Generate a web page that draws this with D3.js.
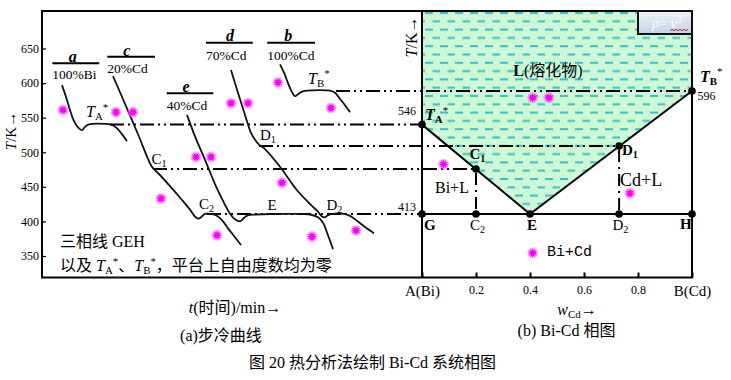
<!DOCTYPE html>
<html>
<head>
<meta charset="utf-8">
<script src="https://cdn.jsdelivr.net/npm/d3@7"></script>
<style>
  body { margin: 0; background: #fff; }
  text { font-family: "Liberation Serif", "Noto Sans CJK SC", serif; fill: #000; }
</style>
</head>
<body>
<div id="chart"></div>
<script>
// ---- values ----
const tempTicks = [350, 400, 450, 500, 550, 600, 650];
const compTicks = [0, 0.2, 0.4, 0.6, 0.8, 1];
const compTickLabels = ["A(Bi)", "0.2", "0.4", "0.6", "0.8", "B(Cd)"];

// cooling curves, [t (min), T (K)]
const curveA = [[2.0,597],[2.4,580],[2.8,561],[3.2,545],[3.6,536],[4.0,532],[4.2,535],[4.5,539],[5.0,541],
  [6.3,541],[6.9,540],[7.4,536],[7.9,528],[8.5,516]];
const curveC = [[7.1,610],[8.3,570],[9.6,526],[10.8,484],[11.1,477],[11.6,470],[12.8,451],[14.0,431],[14.8,417],
  [15.3,407],[15.65,404],[15.9,406],[16.3,411],[16.8,411],[17.4,409],[18.0,402],[18.6,390],[19.2,379],[19.9,366]];
const curveE = [[14.5,554],[15.3,523],[16.3,489],[17.3,454],[18.3,424],[18.8,411],[19.3,403],[19.8,400],[20.2,405],
  [20.6,409],[21.4,410],[24.8,411],[26.8,410],[27.6,406],[28.1,398],[28.6,380],[29.1,360]];
const curveD = [[18.9,619],[19.6,586],[20.3,554],[20.9,528],[21.3,518],[21.7,511],[22.2,506],[23.8,479],[25.5,445],
  [26.9,424],[27.6,414],[28.0,407],[28.3,406],[28.6,409],[29.0,411],[30.2,411],[30.8,408],[31.5,401],[32.3,392],[33.2,383]];
const curveB = [[23.8,627],[24.2,615],[24.6,600],[25.0,587],[25.3,581],[25.6,584],[25.9,587],[26.5,589],[28.8,589],
  [29.3,586],[29.8,577],[30.3,568],[30.8,558]];
const curveNames = ["a", "c", "e", "d", "b"];
const curveComps = ["100%Bi", "20%Cd", "40%Cd", "70%Cd", "100%Cd"];

// phase diagram points, w(Cd) and T (K)
const pointNames = ["TA", "TB", "C1", "D1", "G", "C2", "E", "D2", "H"];
const pointW = [0, 1, 0.2, 0.73, 0, 0.2, 0.4, 0.73, 1];
const pointT = [546, 596, 480, 514, 413, 413, 413, 413, 413];

// dash-dot lines: from t on the curves to w in the phase diagram
const tieT = [596, 546, 514, 480, 413];
const tieFromT = [29.4, 6.8, 21.7, 11.1, 16.5];
const tieToW = [1, 0, 0.73, 0.2, 0];

// star markers
const starsA = [[2.1,561],[7.4,558],[9.1,558],[23.6,601],[18.9,571],[20.6,571],[28.9,564],[15.4,493],[16.9,493],
  [24.0,456],[11.9,433],[17.5,380],[27.0,378],[31.4,387]];
const starsB = [[0.41,586],[0.47,586],[0.08,487],[0.77,444],[0.41,355]];

// ---- layout ----
const W = 731, H = 380;
const frame = { left: 42, top: 11, mid: 422, right: 692, bottom: 277.5 };

const svg = d3.select("#chart").append("svg").attr("width", W).attr("height", H);

const xA = d3.scaleLinear().domain([0, 38]).range([frame.left, frame.mid]);
const yA = d3.scaleLinear().domain([350, 650]).range([256, 48.5]);
const xB = d3.scaleLinear().domain([0, 1]).range([frame.mid, frame.right]);
const yB = d3.scaleLinear().domain([413, 596]).range([214, 91]);

// rich text helper (italic / bold / sub / sup parts)
function richText(sel, x, y, parts, size, anchor) {
  const t = sel.append("text").attr("x", x).attr("y", y)
    .attr("font-size", size).attr("text-anchor", anchor || "start");
  let shift = 0;
  parts.forEach(p => {
    const target = p.sub ? size * 0.2 : p.sup ? -size * 0.38 : 0;
    const s = t.append("tspan").text(p.t).attr("dy", target - shift);
    shift = target;
    if (p.sub || p.sup) s.attr("font-size", size * 0.68);
    if (p.i) s.attr("font-style", "italic");
    if (p.b) s.attr("font-weight", "bold");
    if (p.f) s.style("font-family", p.f);
  });
  return t;
}

// ---- liquid region with dashed fill ----
const defs = svg.append("defs");
const pat = defs.append("pattern").attr("id", "liq").attr("patternUnits", "userSpaceOnUse")
  .attr("width", 15).attr("height", 16.6).attr("x", frame.mid + 3).attr("y", 12);
pat.append("rect").attr("width", 15).attr("height", 16.6).attr("fill", "#cef7d4");
pat.append("rect").attr("x", 0).attr("y", 0).attr("width", 8).attr("height", 2).attr("fill", "#33c3c8");
pat.append("rect").attr("x", 7.5).attr("y", 8.3).attr("width", 8).attr("height", 2).attr("fill", "#33c3c8");

const grad = defs.append("linearGradient").attr("id", "boxg").attr("x1", 0).attr("y1", 0).attr("x2", 0).attr("y2", 1);
grad.append("stop").attr("offset", 0).attr("stop-color", "#eef2f8");
grad.append("stop").attr("offset", 1).attr("stop-color", "#c4d3e6");

const tTop = yB.invert(frame.top);
const liquid = [[0, 546], [0, tTop], [1, tTop], [1, 596], [0.4, 413]];
svg.append("path")
  .attr("d", d3.line().x(d => xB(d[0])).y(d => yB(d[1]))(liquid) + "Z")
  .attr("fill", "url(#liq)");

// ---- dash-dot tie lines ----
svg.append("g").selectAll("line").data(tieT).join("line")
  .attr("x1", (d, i) => xA(tieFromT[i]))
  .attr("x2", (d, i) => xB(tieToW[i]))
  .attr("y1", d => yB(d)).attr("y2", d => yB(d))
  .attr("stroke", "#000").attr("stroke-width", 2)
  .attr("stroke-dasharray", "14,4,2,4,2,4");

// ---- phase diagram lines ----
const idx = n => pointNames.indexOf(n);
const pt = n => [xB(pointW[idx(n)]), yB(pointT[idx(n)])];
const pdg = svg.append("g");
pdg.append("path")
  .attr("d", d3.line()([pt("TA"), pt("E"), pt("TB")]))
  .attr("fill", "none").attr("stroke", "#000").attr("stroke-width", 2);
pdg.append("line").attr("x1", pt("G")[0]).attr("x2", pt("H")[0])
  .attr("y1", pt("G")[1]).attr("y2", pt("H")[1]).attr("stroke", "#000").attr("stroke-width", 2);
[["C1", "C2"], ["D1", "D2"]].forEach(([a, b]) => {
  pdg.append("line").attr("x1", pt(a)[0]).attr("x2", pt(b)[0]).attr("y1", pt(a)[1] + 4).attr("y2", pt(b)[1])
    .attr("stroke", "#000").attr("stroke-width", 2).attr("stroke-dasharray", "12,5,2,5");
});
pdg.selectAll("circle").data(pointNames).join("circle")
  .attr("cx", (d, i) => xB(pointW[i])).attr("cy", (d, i) => yB(pointT[i]))
  .attr("r", 3.8).attr("fill", "#000");

// ---- cooling curves ----
const lineA = d3.line().x(d => xA(d[0])).y(d => yA(d[1])).curve(d3.curveCatmullRom.alpha(0.5));
const curves = [curveA, curveC, curveE, curveD, curveB];
svg.append("g").selectAll("path").data(curves).join("path")
  .attr("d", lineA).attr("fill", "none").attr("stroke", "#111").attr("stroke-width", 1.8);

// curve name labels: letter, bar, composition
const labelPos = [
  { cx: 72.7, ly: 61.5, x1: 52.3, x2: 99.3, by: 63.3, ty: 79 },
  { cx: 126.7, ly: 55.5, x1: 107.3, x2: 155, by: 56.7, ty: 72.7 },
  { cx: 186, ly: 91.5, x1: 166.7, x2: 213.3, by: 93.3, ty: 110 },
  { cx: 230, ly: 40.5, x1: 206, x2: 252.7, by: 42.7, ty: 60 },
  { cx: 288.3, ly: 40.5, x1: 267.3, x2: 315, by: 42.7, ty: 60 }
];
const lg = svg.append("g");
curveNames.forEach((n, i) => {
  const p = labelPos[i];
  lg.append("text").attr("x", p.cx).attr("y", p.ly).attr("text-anchor", "middle")
    .attr("font-size", 16).attr("font-weight", "bold").attr("font-style", "italic").text(n);
  lg.append("line").attr("x1", p.x1).attr("x2", p.x2).attr("y1", p.by).attr("y2", p.by)
    .attr("stroke", "#000").attr("stroke-width", 2);
  lg.append("text").attr("x", p.x1).attr("y", p.ty).attr("font-size", 13.5).text(curveComps[i]);
});

// ---- stars ----
function starPath(n, r1, r2) {
  const p = [];
  for (let i = 0; i < 2 * n; i++) {
    const a = i * Math.PI / n, r = i % 2 ? r2 : r1;
    p.push([r * Math.sin(a), -r * Math.cos(a)]);
  }
  return "M" + p.join("L") + "Z";
}
const starPts = starsA.map(d => [xA(d[0]), yA(d[1])]).concat(starsB.map(d => [xB(d[0]), yB(d[1])]));
const sg = svg.append("g").selectAll("g").data(starPts).join("g")
  .attr("transform", d => `translate(${d[0]},${d[1]})`);
sg.append("circle").attr("r", 5.5).attr("fill", "#ff7cff").attr("opacity", 0.45);
sg.append("path").attr("d", starPath(12, 5.5, 2.6)).attr("fill", "#ff00ff");

// ---- frame ----
const fg = svg.append("g").attr("fill", "none").attr("stroke", "#000").attr("stroke-width", 2);
fg.append("rect").attr("x", frame.left).attr("y", frame.top)
  .attr("width", frame.right - frame.left).attr("height", frame.bottom - frame.top);
fg.append("line").attr("x1", frame.mid).attr("x2", frame.mid).attr("y1", frame.top).attr("y2", frame.bottom);

// small box in the corner
svg.append("rect").attr("x", 638).attr("y", frame.top).attr("width", frame.right - 638).attr("height", 23)
  .attr("fill", "url(#boxg)").attr("stroke", "#111").attr("stroke-width", 2);
richText(svg, 652, 28, [{ t: "p", i: true }, { t: "= " }, { t: "v", i: true }, { t: "3", sup: true }], 14)
  .style("fill", "#fff").style("opacity", 0.9);
svg.append("path").attr("d", d3.range(0, 10).map(i => `${i ? "L" : "M"}${670 + i * 2},${i % 2 ? 29 : 31}`).join(""))
  .attr("fill", "none").attr("stroke", "#e02020").attr("stroke-width", 1);

// ---- axes ----
const yAxis = svg.append("g").attr("transform", `translate(${frame.left},0)`)
  .call(d3.axisLeft(yA).tickValues(tempTicks).tickSize(-4).tickPadding(3));
yAxis.select(".domain").remove();
yAxis.selectAll("text").attr("font-size", 12).style("font-family", "Liberation Serif");
yAxis.selectAll("line").attr("stroke-width", 1.2);

const xAxis = svg.append("g").attr("transform", `translate(0,${frame.bottom})`)
  .call(d3.axisBottom(xB).tickValues(compTicks).tickFormat((d, i) => compTickLabels[i]).tickSize(-5).tickPadding(7.5));
xAxis.select(".domain").remove();
xAxis.selectAll("line").attr("stroke-width", 2);
xAxis.selectAll("text").style("font-family", "Liberation Serif")
  .attr("font-size", (d, i) => (i === 0 || i === compTicks.length - 1) ? 15 : 12);

// axis titles
richText(svg, 16, 131, [{ t: "T", i: true }, { t: "/K→" }], 15, "middle").attr("transform", "rotate(-90,16,131)");
richText(svg, 417, 37, [{ t: "T", i: true }, { t: "/K→" }], 16, "middle").attr("transform", "rotate(-90,417,37)");
richText(svg, 235, 313, [{ t: "t", i: true }, { t: "(时间)/min→" }], 16, "middle");
richText(svg, 577, 315, [{ t: "w", i: true }, { t: "Cd", sub: true }, { t: "→" }], 16, "middle");

// ---- annotations in (a) ----
richText(svg, 86, 117, [{ t: "T", i: true }, { t: "A", sub: true }, { t: "*", sup: true }], 16);
richText(svg, 308, 83.5, [{ t: "T", i: true }, { t: "B", sub: true }, { t: "*", sup: true }], 16);
richText(svg, 151.5, 163.5, [{ t: "C" }, { t: "1", sub: true }], 15);
richText(svg, 260, 140, [{ t: "D" }, { t: "1", sub: true }], 15);
richText(svg, 199, 208.5, [{ t: "C" }, { t: "2", sub: true }], 15);
richText(svg, 267.5, 210, [{ t: "E" }], 15);
richText(svg, 326.5, 209.5, [{ t: "D" }, { t: "2", sub: true }], 15);
richText(svg, 60, 247, [{ t: "三相线 GEH" }], 16);
richText(svg, 60, 271, [{ t: "以及 " }, { t: "T", i: true }, { t: "A", sub: true }, { t: "*", sup: true },
  { t: "、" }, { t: "T", i: true }, { t: "B", sub: true }, { t: "*", sup: true },
  { t: "，平台上自由度数均为零" }], 16);

// ---- annotations in (b) ----
richText(svg, 548, 76, [{ t: "L", b: true }, { t: "(熔化物)" }], 16, "middle");
richText(svg, 425, 120, [{ t: "T", i: true, b: true }, { t: "A", sub: true, b: true }, { t: "*", sup: true }], 16);
richText(svg, 700, 81.5, [{ t: "T", i: true, b: true }, { t: "B", sub: true, b: true }, { t: "*", sup: true }], 16);
richText(svg, 407, 115, [{ t: "546" }], 12, "middle");
richText(svg, 706.5, 99.5, [{ t: "596" }], 12, "middle");
richText(svg, 407, 211, [{ t: "413" }], 12, "middle");
richText(svg, 469.5, 158.5, [{ t: "C", b: true }, { t: "1", sub: true, b: true }], 15);
richText(svg, 622, 155, [{ t: "D", b: true }, { t: "1", sub: true, b: true }], 15);
richText(svg, 435, 193, [{ t: "Bi+L" }], 16);
richText(svg, 620, 186, [{ t: "Cd+L" }], 18);
richText(svg, 424, 230, [{ t: "G", b: true }], 15);
richText(svg, 470, 230, [{ t: "C" }, { t: "2", sub: true }], 15);
richText(svg, 532, 230, [{ t: "E", b: true }], 15, "middle");
richText(svg, 612.5, 230, [{ t: "D" }, { t: "2", sub: true }], 15);
richText(svg, 680, 229, [{ t: "H", b: true }], 15);
richText(svg, 547, 256, [{ t: "Bi+Cd", f: "Liberation Mono" }], 15);

// ---- captions ----
richText(svg, 221, 341, [{ t: "(a)步冷曲线" }], 16, "middle");
richText(svg, 566.5, 336, [{ t: "(b) Bi-Cd 相图" }], 16, "middle");
richText(svg, 372.5, 368, [{ t: "图 20 热分析法绘制 Bi-Cd 系统相图" }], 16, "middle");
</script>
</body>
</html>
